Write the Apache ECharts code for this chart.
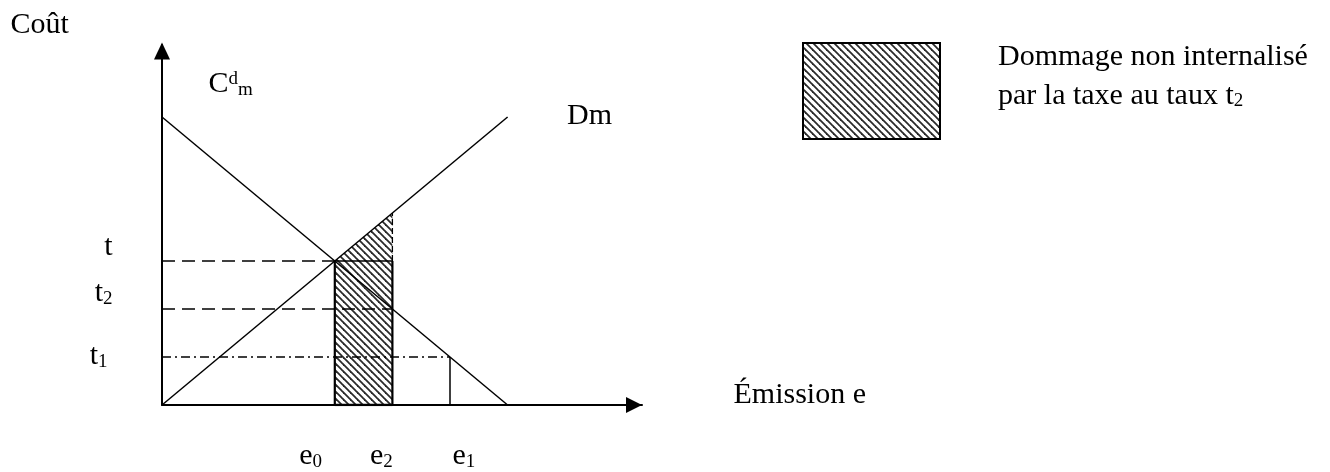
<!DOCTYPE html>
<html>
<head>
<meta charset="utf-8">
<script src="https://cdn.jsdelivr.net/npm/echarts@6/dist/echarts.min.js"></script>
<style>
html, body { margin: 0; padding: 0; background: #ffffff; }
#chart { width: 1330px; height: 472px; }
</style>
</head>
<body>
<div id="chart"></div>
<script>
// ---------------- data ----------------
const demandCurve = [[0, 8], [7.2, 0]];      // C^d_m  (decreasing)
const damageCurve = [[0, 0], [7.2, 8]];      // Dm     (increasing)
const emissionNames = ['e_0', 'e_2', 'e_1'];
const emissionValues = [3.6, 4.8, 6];
const taxNames = ['t', 't_2', 't_1'];
const taxValues = [4, 2.667, 1.333];
const damageAtE2 = 5.333;
const curveNames = ['C^d_m', 'Dm'];
const axisTitles = ['Coût', 'Émission e'];
const axisMax = [10, 10];
const legendLines = ['Dommage non internalisé', 'par la taxe au taux t_2'];

// ---------------- helpers ----------------
const FONT = "'Liberation Serif', 'Times New Roman', 'DejaVu Serif', serif";
const MAIN = 30, SMALL = 19;

function toRich(s) {
  const parts = s.match(/[\^_]?[^\^_]+/g) || [];
  return parts.map(function (p) {
    if (p[0] === '^') return '{sup|' + p.slice(1) + '}';
    if (p[0] === '_') return '{sub|' + p.slice(1) + '}';
    return '{m|' + p + '}';
  }).join('');
}
const richLabel = {
  m:   { fontSize: MAIN,  fontFamily: FONT, color: '#000' },
  sup: { fontSize: SMALL, fontFamily: FONT, color: '#000', verticalAlign: 'top' },
  sub: { fontSize: SMALL, fontFamily: FONT, color: '#000', verticalAlign: 'bottom' }
};
const richGraphic = {
  m:   { fontSize: MAIN,  fontFamily: FONT, fill: '#000' },
  sup: { fontSize: SMALL, fontFamily: FONT, fill: '#000', verticalAlign: 'top' },
  sub: { fontSize: SMALL, fontFamily: FONT, fill: '#000', verticalAlign: 'bottom' }
};

function makeHatch() {
  const s = 7;
  const c = document.createElement('canvas');
  c.width = s; c.height = s;
  const g = c.getContext('2d');
  g.fillStyle = '#fff';
  g.fillRect(0, 0, s, s);
  g.strokeStyle = '#2a2a2a';
  g.lineWidth = 1.8;
  for (let k = -1; k <= 1; k++) {
    g.beginPath();
    g.moveTo(k * s - 1, -1);
    g.lineTo(k * s + s + 1, s + 1);
    g.stroke();
  }
  return c;
}
const hatch = { image: makeHatch(), repeat: 'repeat' };

function seg(data, width, type) {
  return {
    type: 'line', data: data, symbol: 'none', silent: true, animation: false,
    lineStyle: { color: '#000', width: width, type: type || 'solid' }, z: 4
  };
}

// label placement (pixels offsets from the anchor point)
function labelItem(text, anchor, dx, dy, align) {
  return {
    value: anchor,
    label: {
      show: true, formatter: toRich(text), position: [dx, dy],
      align: align, verticalAlign: 'middle', rich: richLabel,
      color: '#000', opacity: 1, fontFamily: FONT, fontSize: MAIN
    }
  };
}

const e0 = emissionValues[0], e2 = emissionValues[1], e1 = emissionValues[2];
const tT = taxValues[0], t2 = taxValues[1], t1 = taxValues[2];
const hatchPolygon = [[e0, 0], [e2, 0], [e2, damageAtE2], [e0, tT]];

const tOffsets = [[-49, -13], [-49, -15], [-54, 0]];
const eOffsets = [[-35, 52], [-22, 52], [3, 52]];

const labelData = [
  labelItem(axisTitles[0], [0, axisMax[1]], -151, -19, 'left'),
  labelItem(axisTitles[1], [axisMax[0], 0], 92, -9, 'left'),
  labelItem(curveNames[0], demandCurve[0], 47, -32, 'left'),
  labelItem(curveNames[1], damageCurve[1], 60, 0, 'left')
];
taxNames.forEach(function (n, i) {
  labelData.push(labelItem(n, [0, taxValues[i]], tOffsets[i][0], tOffsets[i][1], 'right'));
});
emissionNames.forEach(function (n, i) {
  labelData.push(labelItem(n, [emissionValues[i], 0], eOffsets[i][0], eOffsets[i][1], 'left'));
});

const chart = echarts.init(document.getElementById('chart'), null, { renderer: 'canvas' });

const axisCommon = {
  type: 'value', min: 0,
  axisTick: { show: false }, axisLabel: { show: false }, splitLine: { show: false }
};

chart.setOption({
  animation: false,
  backgroundColor: '#ffffff',
  grid: { left: 162, top: 45, width: 480, height: 360, containLabel: false },
  xAxis: Object.assign({}, axisCommon, {
    max: axisMax[0],
    axisLine: {
      show: true, symbol: ['none', 'triangle'], symbolSize: [16, 16], symbolOffset: [0, -8],
      lineStyle: { color: '#000', width: 2 }
    }
  }),
  yAxis: Object.assign({}, axisCommon, {
    max: axisMax[1],
    axisLine: {
      show: true, symbol: ['none', 'triangle'], symbolSize: [16, 17], symbolOffset: [0, -6],
      lineStyle: { color: '#000', width: 2 }
    }
  }),
  graphic: [
    {
      type: 'rect', shape: { x: 803, y: 43, width: 137, height: 96 },
      style: { fill: hatch, stroke: '#000', lineWidth: 2 }
    },
    {
      type: 'text', x: 998, y: 57,
      style: { text: toRich(legendLines[0]), rich: richGraphic, verticalAlign: 'middle', align: 'left' }
    },
    {
      type: 'text', x: 998, y: 96,
      style: { text: toRich(legendLines[1]), rich: richGraphic, verticalAlign: 'middle', align: 'left' }
    }
  ],
  series: [
    {
      type: 'custom', silent: true, z: 1, animation: false,
      data: [[e0, 0]],
      renderItem: function (params, api) {
        const pts = hatchPolygon.map(function (p) { return api.coord(p); });
        return { type: 'polygon', shape: { points: pts }, style: { fill: hatch, stroke: 'none' } };
      }
    },
    seg(demandCurve, 1.5),
    seg(damageCurve, 1.5),
    seg([[0, tT], [e0, tT]], 1.5, [13, 7]),
    seg([[e0, tT], [e2, tT]], 1.3),
    seg([[0, t2], [e2, t2]], 1.5, [13, 7]),
    seg([[0, t1], [e1, t1]], 1.3, [9, 4, 2, 4]),
    seg([[e0, 0], [e0, tT]], 2.2),
    seg([[e2, 0], [e2, tT]], 2.2),
    seg([[e2, tT], [e2, damageAtE2]], 1.3, [6, 3]),
    seg([[e1, 0], [e1, t1]], 1.5),
    seg([[e0, 0], [e2, 0]], 2.5),
    {
      type: 'scatter', symbol: 'circle', symbolSize: 1, silent: true, animation: false,
      itemStyle: { color: 'rgba(0,0,0,0)' }, z: 5,
      data: labelData
    }
  ]
});
</script>
</body>
</html>
